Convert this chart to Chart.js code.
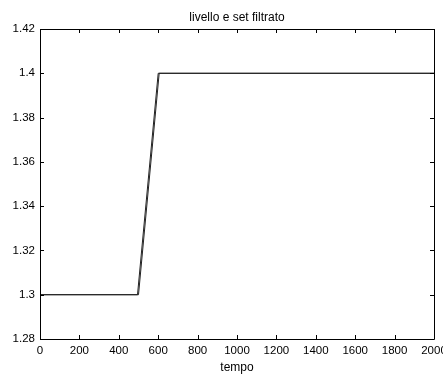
<!DOCTYPE html>
<html>
<head>
<meta charset="utf-8">
<script src="https://cdn.jsdelivr.net/npm/chart.js@4"></script>
<style>
  html, body { margin: 0; padding: 0; background: #fff; }
  #chart { display: block; }
</style>
</head>
<body>
<canvas id="chart" width="443" height="375"></canvas>
<script>
// filtered set point: step 1.3 -> 1.4 shaped as a ramp
const setTimes  = [0, 495, 600, 2000];
const setValues = [1.3, 1.3, 1.4, 1.4];

// measured level, following the set with a small lag
const levelTimes  = [0, 500, 605, 2000];
const levelValues = [1.3, 1.3, 1.4, 1.4];

const xTicks = [0, 200, 400, 600, 800, 1000, 1200, 1400, 1600, 1800, 2000];
const yTicks = [1.28, 1.3, 1.32, 1.34, 1.36, 1.38, 1.4, 1.42];

const FONT = "'Liberation Sans', Arial, sans-serif";

const toPoints = (xs, ys) => xs.map((x, i) => ({ x, y: ys[i] }));

// box around the plot with inward tick marks on all four sides
const frame = {
  id: "frame",
  afterDatasetsDraw(chart) {
    const { ctx, chartArea: a, scales } = chart;
    const len = 4;
    ctx.save();
    ctx.strokeStyle = "#000";
    ctx.lineWidth = 1;
    ctx.beginPath();
    ctx.rect(Math.round(a.left) + 0.5, Math.round(a.top) + 0.5,
             Math.round(a.right - a.left), Math.round(a.bottom - a.top));
    xTicks.forEach(v => {
      const px = Math.round(scales.x.getPixelForValue(v)) + 0.5;
      ctx.moveTo(px, a.bottom); ctx.lineTo(px, a.bottom - len);
      ctx.moveTo(px, a.top);    ctx.lineTo(px, a.top + len);
    });
    yTicks.forEach(v => {
      const py = Math.round(scales.y.getPixelForValue(v)) + 0.5;
      ctx.moveTo(a.left, py);  ctx.lineTo(a.left + len, py);
      ctx.moveTo(a.right, py); ctx.lineTo(a.right - len, py);
    });
    ctx.stroke();
    ctx.restore();
  }
};

// drop the edge padding Chart.js reserves for the outer tick labels
const noPad = s => { s.paddingLeft = s.paddingRight = s.paddingTop = s.paddingBottom = 0; };

new Chart(document.getElementById("chart"), {
  type: "line",
  data: {
    datasets: [
      {
        label: "set filtrato",
        data: toPoints(setTimes, setValues),
        borderColor: "#222",
        borderWidth: 1,
        pointRadius: 0,
        tension: 0
      },
      {
        label: "livello",
        data: toPoints(levelTimes, levelValues),
        borderColor: "#222",
        borderWidth: 1,
        pointRadius: 0,
        tension: 0
      }
    ]
  },
  plugins: [frame],
  options: {
    responsive: false,
    animation: false,
    events: [],
    layout: {
      autoPadding: false,
      padding: { left: 0, right: 9, top: 0, bottom: 0 }
    },
    plugins: {
      legend: { display: false },
      tooltip: { enabled: false },
      title: { display: false }
    },
    scales: {
      x: {
        type: "linear",
        min: 0,
        max: 2000,
        afterBuildTicks: s => { s.ticks = xTicks.map(value => ({ value })); },
        afterFit: s => { s.height = 36; noPad(s); },
        grid: { display: false, drawTicks: false },
        border: { display: false },
        ticks: {
          color: "#000",
          padding: 5,
          maxRotation: 0,
          autoSkip: false,
          font: { family: FONT, size: 11.5 },
          callback: v => String(v)
        },
        title: {
          display: true,
          text: "tempo",
          color: "#000",
          font: { family: FONT, size: 12 },
          padding: { top: 1, bottom: 0 }
        }
      },
      // top axis only carries the plot title, centred over the plot box
      top: {
        type: "linear",
        position: "top",
        min: 0,
        max: 2000,
        afterFit: s => { s.height = 29; noPad(s); },
        grid: { display: false, drawTicks: false },
        border: { display: false },
        ticks: { display: false },
        title: {
          display: true,
          text: "livello e set filtrato",
          color: "#000",
          font: { family: FONT, size: 12 },
          padding: { top: 10, bottom: 0 }
        }
      },
      y: {
        type: "linear",
        min: 1.28,
        max: 1.42,
        afterBuildTicks: s => { s.ticks = yTicks.map(value => ({ value })); },
        afterFit: s => { s.width = 40; noPad(s); },
        grid: { display: false, drawTicks: false },
        border: { display: false },
        ticks: {
          color: "#000",
          padding: 5,
          autoSkip: false,
          font: { family: FONT, size: 11.5 },
          callback: v => String(parseFloat(v.toFixed(2)))
        }
      }
    }
  }
});
</script>
</body>
</html>
